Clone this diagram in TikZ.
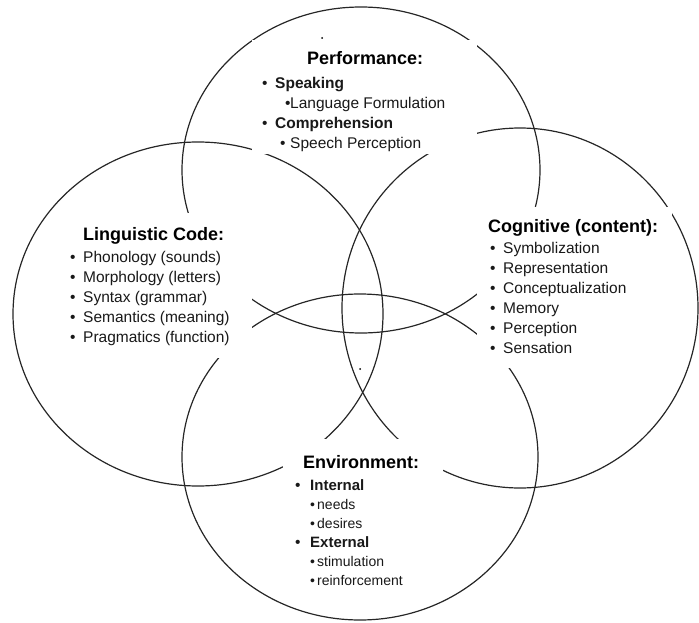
\documentclass[tikz,border=0pt]{standalone}
\usepackage{fontspec}
\setmainfont{Liberation Sans}
\usetikzlibrary{shapes.geometric}
\usetikzlibrary{positioning}
\tikzset{
	ring/.style={ellipse,draw=black!85,line width=1.2pt,inner sep=0pt},
	cover/.style={fill=white,inner sep=0pt,anchor=north west},
	head/.style={font=\fontsize{18}{20}\selectfont\bfseries,inner sep=0pt,anchor=base west},
	list/.style={inner sep=0pt,anchor=base west,text=black!90}
}
\newcommand{\bul}[1][13pt]{\makebox[#1][l]{\textbullet}}
\newcommand{\lines}[2]{\parbox[t]{200pt}{\fontsize{15.5}{#1}\selectfont #2}}

\begin{document}
\begin{tikzpicture}[x=1pt,y=-1pt]
	\useasboundingbox (0,0) rectangle (699,623);
	% the four fields
	\node [ring,minimum width=358pt,minimum height=326pt] (perf) at (361,170) {};
	\node [ring,minimum width=370pt,minimum height=344pt] (ling) at (198,314) {};
	\node [ring,minimum width=356pt,minimum height=360pt] (cogn) at (520,308) {};
	\node [ring,minimum width=356pt,minimum height=326pt] (envi) at (360,457) {};
	% white boxes behind the texts
	\node [cover,minimum width=225pt,minimum height=114pt] (perfbox) at (252,40) {};
	\node [cover,minimum width=190pt,minimum height=145pt] (lingbox) at (62,213) {};
	\node [cover,minimum width=195pt,minimum height=161pt] (cognbox) at (477,207) {};
	\node [cover,minimum width=160pt,minimum height=156pt] (envibox) at (283,439) {};
	% Performance
	\node [head] (perfhead) at (307,65) {Performance:};
	\node [list] (perflist) at (262,89) {\lines{19.7pt}{%
		\bul\textbf{Speaking}\\
		\hspace*{23pt}\bul[5pt]Language Formulation\\
		\bul\textbf{Comprehension}\\
		\hspace*{18pt}\bul[10pt]Speech Perception}};
	% Linguistic Code
	\node [head] (linghead) at (83,240) {Linguistic Code:};
	\node [list] (linglist) at (70,262) {\lines{20pt}{%
		\bul Phonology (sounds)\\
		\bul Morphology (letters)\\
		\bul Syntax (grammar)\\
		\bul Semantics (meaning)\\
		\bul Pragmatics (function)}};
	% Cognitive (content)
	\node [head] (cognhead) at (488,232) {Cognitive (content):};
	\node [list] (cognlist) at (490,253) {\lines{20pt}{%
		\bul Symbolization\\
		\bul Representation\\
		\bul Conceptualization\\
		\bul Memory\\
		\bul Perception\\
		\bul Sensation}};
	% Environment
	\node [head] (envihead) at (303,468) {Environment:};
	\node [list] (envilist) at (295,490) {\lines{19pt}{%
		\bul[15pt]{\fontsize{15}{19}\selectfont\bfseries Internal}\\
		\hspace*{15pt}{\fontsize{14}{19}\selectfont\bul[7pt]needs}\\
		\hspace*{15pt}{\fontsize{14}{19}\selectfont\bul[7pt]desires}\\
		\bul[15pt]{\fontsize{15}{19}\selectfont\bfseries External}\\
		\hspace*{15pt}{\fontsize{14}{19}\selectfont\bul[7pt]stimulation}\\
		\hspace*{15pt}{\fontsize{14}{19}\selectfont\bul[7pt]reinforcement}}};
	% stray dots
	\fill (322,38) circle (1pt);
	\fill (360,369) circle (1pt);
\end{tikzpicture}
\end{document}
